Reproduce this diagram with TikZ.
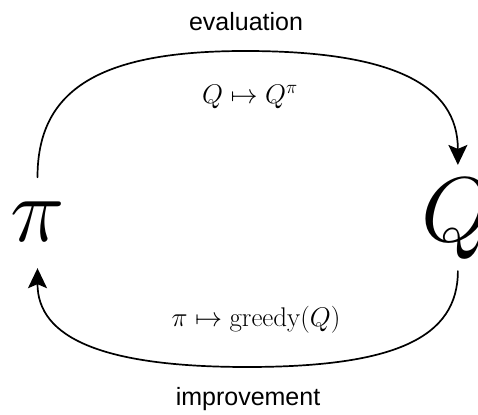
\RequirePackage{fix-cm}
\documentclass[tikz,border=0pt]{standalone}
\usepackage{fontspec}
\setsansfont{Liberation Sans}
\usetikzlibrary{arrows.meta,calc}

\tikzset{
  bigsym/.style={inner sep=0pt,font=\fontsize{92}{96}\selectfont},
  rule/.style={inner sep=0pt,font=\fontsize{27}{32}\selectfont},
  phase/.style={inner sep=0pt,font=\sffamily\fontsize{25}{30}\selectfont},
  loopline/.style={line width=1.7pt,line cap=round},
  loophead/.style={-{Stealth[length=20pt,width=19pt,inset=4pt]}}
}

\begin{document}
\begin{tikzpicture}[x=1pt,y=1pt]
\useasboundingbox (0,0) rectangle (478,414);

\node[bigsym,anchor=base] (pi) at (37.5,172) {$\pi$};
\node[bigsym,anchor=base west] (Q) at (421,172) {$Q$};

\node[phase] (eval) at (246,392) {evaluation};
\node[phase] (impr) at (248,15) {improvement};
\node[rule] (evalrule) at (250,317) {$Q\mapsto Q^{\pi}$};
\node[rule] (imprrule) at (256,94) {$\pi\mapsto \mathrm{greedy}(Q)$};

\coordinate (piN) at ([yshift=25pt]pi.north);
\coordinate (piS) at ([yshift=-26pt]pi.south);
\coordinate (QN) at ([xshift=1pt,yshift=14pt]Q.north);
\coordinate (QS) at ([xshift=1pt,yshift=-11pt]Q.south);
\coordinate (topmid) at (245,363);
\coordinate (botmid) at (247,47);

\draw[loopline,loophead] (piN) to[out=90,in=180,out distance=88pt,in distance=145pt] (topmid)
  to[out=0,in=90,out distance=148pt,in distance=80pt] (QN);
\draw[loopline,loophead] (QS) to[out=-90,in=0,out distance=67pt,in distance=147pt] (botmid)
  to[out=180,in=-90,out distance=146pt,in distance=69pt] (piS);

\end{tikzpicture}
\end{document}
